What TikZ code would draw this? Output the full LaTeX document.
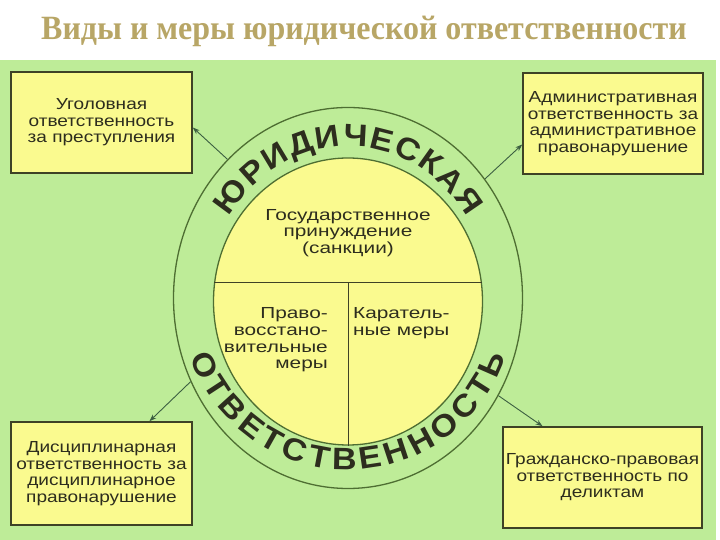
\documentclass[tikz,border=0pt]{standalone}
\usepackage{fontspec}
\setmainfont{Liberation Sans}[FakeStretch=1.19]
\newfontfamily\titlefont{Liberation Serif}[FakeStretch=0.94]
\newfontfamily\ringfont{Liberation Sans}[FakeStretch=1.1]
\newfontfamily\corefont{Liberation Sans}[FakeStretch=1.3]
\usetikzlibrary{shapes.geometric,arrows.meta,decorations.text}
\usepackage{xcolor}

\definecolor{bggreen}{RGB}{190,236,152}
\definecolor{boxfill}{RGB}{250,250,143}
\definecolor{boxline}{RGB}{62,66,38}
\definecolor{ringline}{RGB}{78,110,50}
\definecolor{ink}{RGB}{45,45,30}
\definecolor{titlegold}{RGB}{184,166,102}
\definecolor{linkline}{RGB}{60,95,65}

\newcommand{\cellfont}{\fontsize{16}{16.5}\selectfont}
\newcommand{\innerfont}{\corefont\fontsize{16}{16.7}\selectfont}
\newcommand{\ringbold}{\ringfont\bfseries\fontsize{31}{31}\selectfont}

\begin{document}
\begin{tikzpicture}[
                x=1pt, y=1pt,
                box/.style={draw=boxline, line width=1.6pt, fill=boxfill, text=ink,
                    align=center, font=\cellfont, inner sep=2pt},
                oval/.style={draw=ringline, line width=1.3pt, ellipse, inner sep=0pt},
                divline/.style={draw=boxline, line width=1pt},
                label/.style={text=ink, font=\innerfont, inner sep=2pt},
                link/.style={draw=linkline, line width=0.9pt, -{Stealth[length=7pt,width=5pt]}},
                ringtext/.style={decorate, decoration={text along path,
                    text align={fit to path}, text color=ink}}
            ]
                % page and title
                \fill[white] (0,0) rectangle (720,540);
                \fill[bggreen] (0,0) rectangle (716,480);
                \useasboundingbox (0,0) rectangle (720,540);
                \node[anchor=base, text=titlegold, font=\titlefont\bfseries\fontsize{34}{34}\selectfont]
                    (title) at (364,500) {Виды и меры юридической ответственности};

                % circle
                \node[oval, minimum width=349pt, minimum height=381pt] (ring) at (348,242) {};
                \node[oval, fill=boxfill, minimum width=269pt, minimum height=287pt] (core) at (348,238.5) {};
                \coordinate (split) at (348,257);
                \draw[divline] (core.172) -- (core.8);
                \draw[divline] (split) -- (core.south);

                \path[ringtext, decoration={text={|\ringbold|ЮРИДИЧЕСКАЯ}}]
                    (ring.center) ++(148:140 and 152) arc[start angle=148, end angle=32, x radius=140, y radius=152];
                \path[ringtext, decoration={text={|\ringbold|ОТВЕТСТВЕННОСТЬ}}]
                    (ring.center) ++(200:168 and 172) arc[start angle=200, end angle=340, x radius=168, y radius=172];

                \node[label, align=center] (force) at (348,307) {Государственное\\принуждение\\(санкции)};
                \node[label, align=right, anchor=east] (restore) at (330,200) {Право-\\восстано-\\вительные\\меры};
                \node[label, align=left, anchor=west] (punish) at (351,217) {Каратель-\\ные меры};

                % kinds
                \node[box, minimum width=181pt, minimum height=101pt] (uk) at (101.5,417.5)
                    {Уголовная\\ответственность\\за преступления};
                \node[box, minimum width=180pt, minimum height=101pt] (adm) at (613,416.5)
                    {Административная\\ответственность за\\административное\\правонарушение};
                \node[box, minimum width=181pt, minimum height=103pt] (dis) at (101.5,66.5)
                    {Дисциплинарная\\ответственность за\\дисциплинарное\\правонарушение};
                \node[box, minimum width=199pt, minimum height=101pt] (civ) at (602.5,62.5)
                    {Гражданско-правовая\\ответственность по\\деликтам};

                \draw[link] (ring.131) -- ([yshift=-5pt]uk.east);
                \draw[link] (ring.41) -- ([yshift=-21pt]adm.west);
                \draw[link] (ring.208) -- ([xshift=48pt]dis.north);
                \draw[link] (ring.327) -- ([xshift=-60pt]civ.north);
            \end{tikzpicture}
\end{document}
